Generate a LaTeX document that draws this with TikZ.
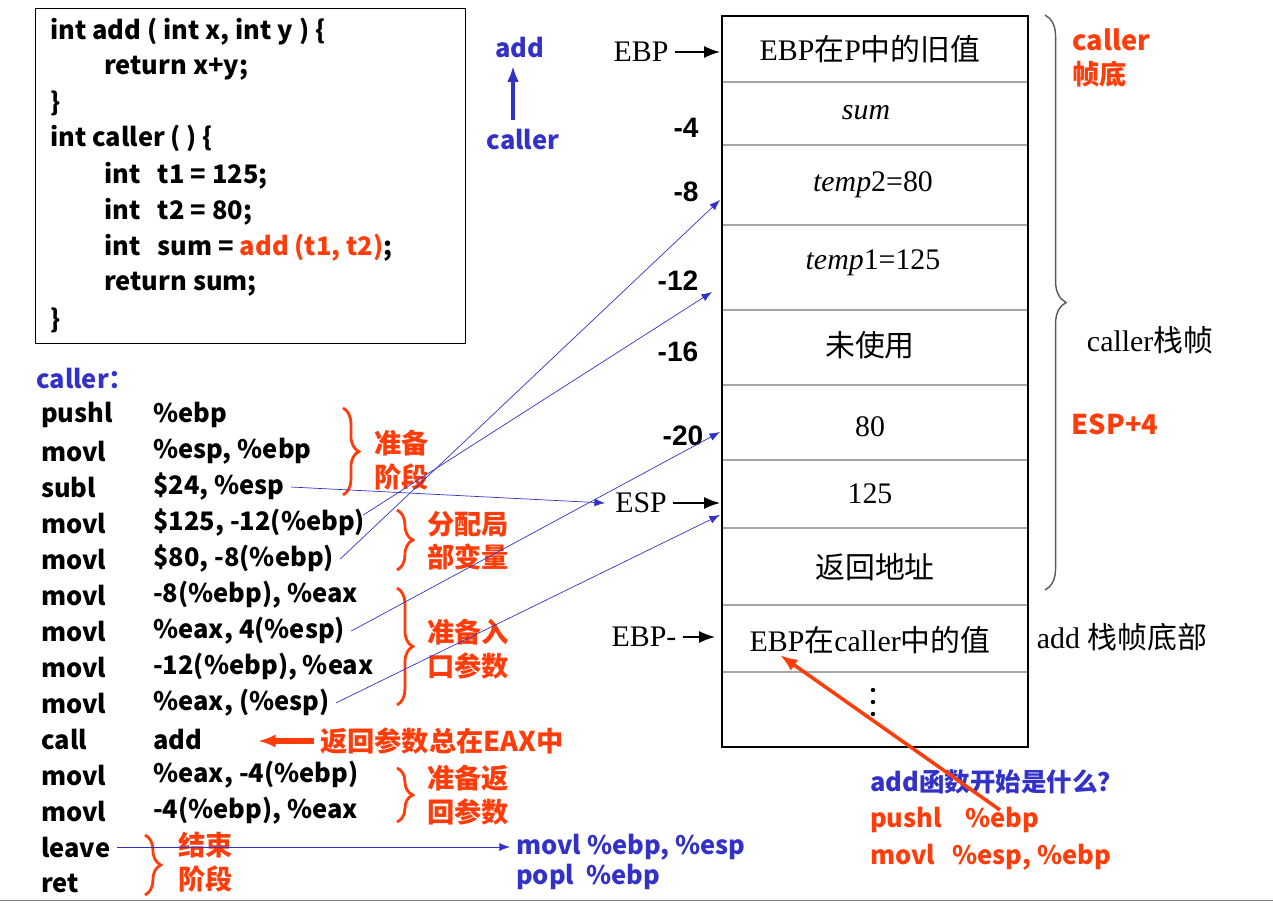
\documentclass[tikz,border=0pt]{standalone}
\usepackage{fontspec}
\setmainfont{Liberation Sans}
\newfontfamily\cjk{Noto Sans CJK SC}
\newfontfamily\srf{Liberation Serif}
\usetikzlibrary{decorations.pathreplacing,arrows.meta}
\definecolor{myred}{RGB}{255,60,10}
\definecolor{myblue}{RGB}{50,50,200}
\tikzset{
  code/.style={anchor=west,font=\bfseries\fontsize{14.5pt}{15pt}\selectfont\cjk},
  cell/.style={font=\fontsize{17pt}{18pt}\selectfont\srf},
  off/.style={font=\bfseries\fontsize{16pt}{17pt}\selectfont},
  note/.style={font=\bfseries\fontsize{15.5pt}{19pt}\selectfont\cjk,text=myred,align=left,anchor=west},
  rbrace/.style={decorate,decoration={brace,amplitude=9pt},draw=myred,line width=1.6pt},
  link/.style={draw=myblue,-{Latex[length=6pt]}},
}
\begin{document}
\begin{tikzpicture}[x=0.02cm,y=-0.02cm]
  \useasboundingbox (0,0) rectangle (1273,902);
  \draw[gray] (0,900) -- (1273,900);
  % code box
  \draw (35,8) rectangle (465,343);
  \foreach \X/\Y/\T in {44/32/{int add ( int x, int y ) \{}, 98/68/{return x+y;}, 44/103/\},
      44/138/{int caller ( ) \{}, 98/176/{int\ \ \ t1 = 125;}, 98/212/{int\ \ \ t2 = 80;},
      98/284/{return sum;}, 44/320/\}}
    \node[code] at (\X,\Y) {\T};
  \node[code] (sumline) at (98,248) {int\ \ \ sum = \textcolor{myred}{add (t1, t2)};};
  % add <- caller
  \node[code,text=myblue,anchor=center] (addfn) at (520,48) {add};
  \node[code,text=myblue,anchor=center] (callerfn) at (523,140) {caller};
  \draw[myblue,line width=2pt,-{Latex[length=9pt]}] (513,120) -- (513,66);
  % stack
  \foreach \Y in {82,145,225,310,385,460,528,605,672}
    \draw[gray!70,line width=1.5pt] (722,\Y) -- (1028,\Y);
  \draw[thick] (722,16) rectangle (1028,747);
  \node[cell] (c1) at (870,49) {EBP{\cjk 在}P{\cjk 中的旧值}};
  \node[cell] (c2) at (866,113) {\itshape sum};
  \node[cell] (c3) at (873,185) {\itshape temp\upshape2=80};
  \node[cell] (c4) at (873,263) {\itshape temp\upshape1=125};
  \node[cell] (c5) at (870,345) {\cjk 未使用};
  \node[cell] (c6) at (870,427) {80};
  \node[cell] (c7) at (870,494) {125};
  \node[cell] (c8) at (875,567) {\cjk 返回地址};
  \node[cell] (c9) at (870,640) {EBP{\cjk 在}caller{\cjk 中的值}};
  \foreach \Y in {690,702,714} \fill (873,\Y) circle (2.2);
  % offsets
  \node[cell] (ebp) at (641,52) {EBP};
  \draw[-{Latex[length=9pt]},thick] (ebp.east) -- (720,52);
  \node[cell] (esp) at (641,503) {ESP};
  \draw[-{Latex[length=9pt]},thick] (esp.east) -- (720,503);
  \node[cell] (ebpn) at (644,637) {EBP-};
  \draw[-{Latex[length=9pt]},thick] (ebpn.east) -- (715,637);
  \node[off] (o4) at (686,128) {-4};
  \node[off] (o8) at (686,192) {-8};
  \node[off] (o12) at (678,281) {-12};
  \node[off] (o16) at (678,352) {-16};
  \node[off] (o20) at (683,436) {-20};
  % right side
  \draw[decorate,decoration={brace,amplitude=12pt},thick,gray!70!black] (1045,15) -- (1045,590);
  \node[note] (ctop) at (1066,58) {caller\\帧底};
  \node[cell] (cframe) at (1150,340) {caller{\cjk 栈帧}};
  \node[note,anchor=center] (esp4) at (1115,424) {ESP+4};
  \node[cell] (aframe) at (1122,637) {add {\cjk 栈帧底部}};
  % assembly
  \node[code,text=myblue] (clab) at (30,378) {caller：};
  \foreach \Y/\M/\O in {415/pushl/\%ebp, 451/movl/{\%esp, \%ebp}, 487/subl/{\$24, \%esp},
      523/movl/{\$125, -12(\%ebp)}, 559/movl/{\$80, -8(\%ebp)}, 595/movl/{-8(\%ebp), \%eax},
      631/movl/{\%eax, 4(\%esp)}, 667/movl/{-12(\%ebp), \%eax}, 703/movl/{\%eax, (\%esp)},
      739/call/add, 775/movl/{\%eax, -4(\%ebp)}, 811/movl/{-4(\%ebp), \%eax}, 847/leave/{}, 883/ret/{}}{
    \node[code] (m\Y) at (35,\Y) {\M};
    \node[code] (a\Y) at (147,\Y) {\O};
  }
  \draw[rbrace] (343,408) -- (343,495);
  \node[note] (n1) at (368,460) {准备\\阶段};
  \draw[rbrace] (397,510) -- (397,570);
  \node[note] (n2) at (421,541) {分配局\\部变量};
  \draw[rbrace] (397,588) -- (397,705);
  \node[note] (n3) at (421,649) {准备入\\口参数};
  \draw[rbrace] (397,768) -- (397,822);
  \node[note] (n4) at (421,795) {准备返\\回参数};
  \draw[rbrace] (145,835) -- (145,895);
  \node[note] (n5) at (172,862) {结束\\阶段};
  \node[note] (eaxnote) at (314,741) {返回参数总在EAX中};
  \draw[myred,line width=3pt,-{Latex[length=10pt]}] (eaxnote.west) -- (258,741);
  % blue links
  \draw[link] (a487.east) -- (605,503);
  \draw[link] (a559.east) -- (720,200);
  \draw[link] (a523.east) ++(-8,-8) -- (712,292);
  \draw[link] (a631.east) -- (720,432);
  \draw[link] (a703.east) -- (720,515);
  \node[code,text=myblue] (ret1) at (510,847) {movl \%ebp, \%esp};
  \node[code,text=myblue] (ret2) at (510,877) {popl\ \ \%ebp};
  \draw[link] (m847.east) -- (ret1.west);
  % bottom right
  \node[code,text=myblue] (q) at (864,782) {add函数开始是什么？};
  \node[code,text=myred] (q1) at (864,820) {pushl\ \ \ \ \%ebp};
  \node[code,text=myred] (q2) at (864,857) {movl\ \ \ \%esp, \%ebp};
  \draw[myred,line width=2pt,-{Latex[length=10pt]}] (1000,810) -- (780,655);
\end{tikzpicture}
\end{document}
